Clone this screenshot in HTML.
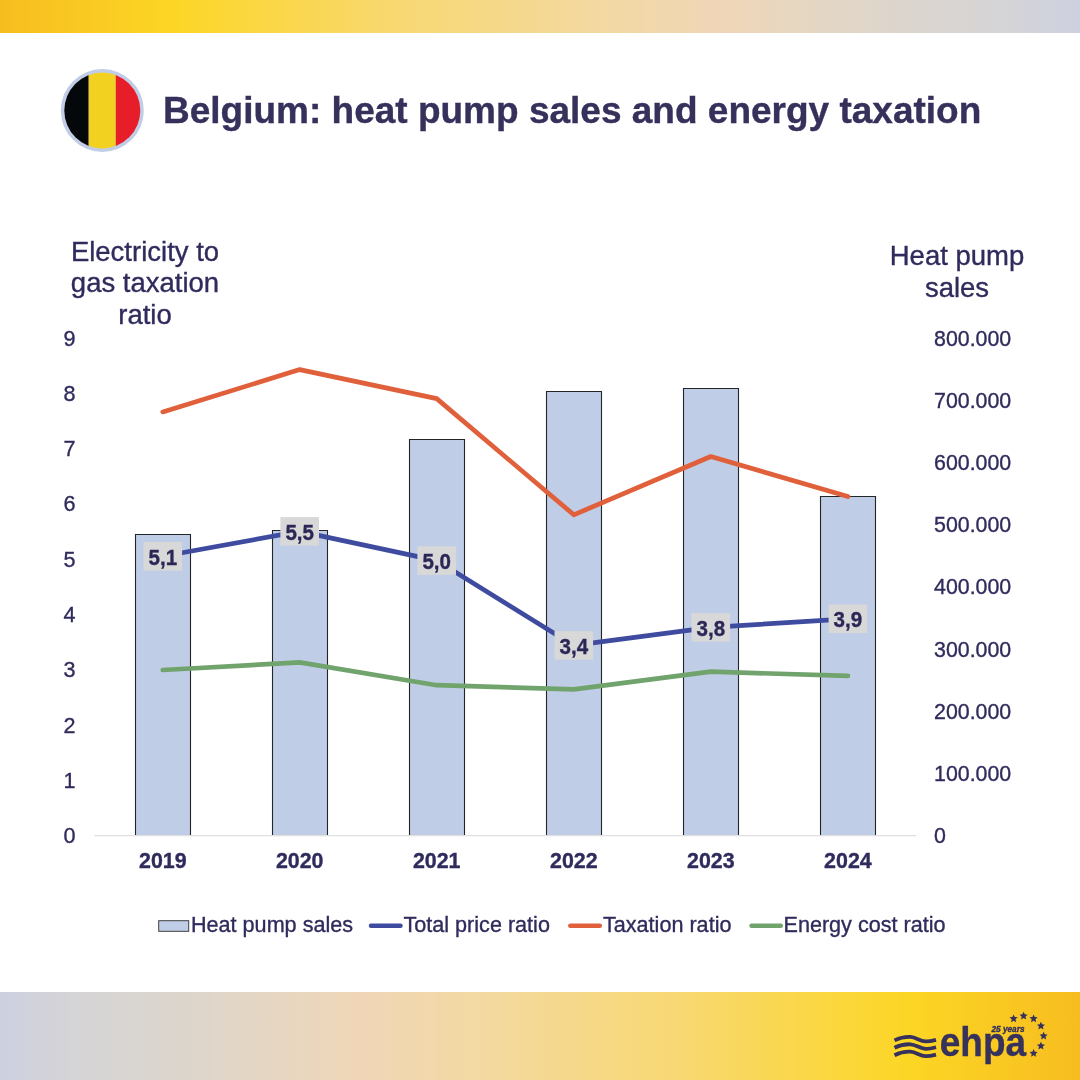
<!DOCTYPE html>
<html><head><meta charset="utf-8">
<style>
html,body{margin:0;padding:0;background:#fff;width:1080px;height:1080px;overflow:hidden}
svg{display:block;will-change:transform}
text{font-family:"Liberation Sans",sans-serif;fill:#2F2B5C;stroke:#2F2B5C;stroke-width:0.35px}
</style></head>
<body>
<svg width="1080" height="1080" viewBox="0 0 1080 1080">
<defs>
<linearGradient id="gTop" x1="0" y1="0" x2="1080" y2="0" gradientUnits="userSpaceOnUse">
<stop offset="0" stop-color="#F7BD1F"/>
<stop offset="0.16" stop-color="#FCD625"/>
<stop offset="0.37" stop-color="#F8D872"/>
<stop offset="0.55" stop-color="#F3D9A0"/>
<stop offset="0.67" stop-color="#F0D6B8"/>
<stop offset="0.74" stop-color="#E7D7C2"/>
<stop offset="0.83" stop-color="#DCD5CC"/>
<stop offset="0.93" stop-color="#D5D4D6"/>
<stop offset="1" stop-color="#CDD1E0"/>
</linearGradient>
<linearGradient id="gBot" x1="0" y1="0" x2="1080" y2="0" gradientUnits="userSpaceOnUse">
<stop offset="0" stop-color="#CDD1E0"/>
<stop offset="0.07" stop-color="#D5D4D6"/>
<stop offset="0.17" stop-color="#DCD5CC"/>
<stop offset="0.26" stop-color="#E7D7C2"/>
<stop offset="0.33" stop-color="#F0D6B8"/>
<stop offset="0.45" stop-color="#F3D9A0"/>
<stop offset="0.63" stop-color="#F8D872"/>
<stop offset="0.84" stop-color="#FCD625"/>
<stop offset="1" stop-color="#F7BD1F"/>
</linearGradient>
<clipPath id="flagClip"><circle cx="102.3" cy="110.5" r="38"/></clipPath>
</defs>
<rect x="0" y="0" width="1080" height="33" fill="url(#gTop)"/>
<rect x="0" y="992" width="1080" height="88" fill="url(#gBot)"/>
<circle cx="102.3" cy="110.5" r="41.5" fill="#C1CCE6"/>
<g clip-path="url(#flagClip)">
<rect x="60" y="70" width="28.7" height="82" fill="#05080A"/>
<rect x="88.7" y="70" width="27.1" height="82" fill="#F2D121"/>
<rect x="115.8" y="70" width="30" height="82" fill="#E71D2A"/>
</g>
<text x="163" y="122.8" font-size="37" font-weight="bold" style="fill:#36315B">Belgium: heat pump sales and energy taxation</text>
<g font-size="27.5" text-anchor="middle">
<text x="145" y="260.7">Electricity to</text>
<text x="145" y="292.2">gas taxation</text>
<text x="145" y="323.7">ratio</text>
<text x="957" y="265.4">Heat pump</text>
<text x="957" y="296.5">sales</text>
</g>

<g font-size="21.6">
<text transform="translate(63.4,843.3) scale(1,1.05)">0</text>
<text transform="translate(63.4,787.99) scale(1,1.05)">1</text>
<text transform="translate(63.4,732.68) scale(1,1.05)">2</text>
<text transform="translate(63.4,677.37) scale(1,1.05)">3</text>
<text transform="translate(63.4,622.06) scale(1,1.05)">4</text>
<text transform="translate(63.4,566.75) scale(1,1.05)">5</text>
<text transform="translate(63.4,511.44) scale(1,1.05)">6</text>
<text transform="translate(63.4,456.13) scale(1,1.05)">7</text>
<text transform="translate(63.4,400.82) scale(1,1.05)">8</text>
<text transform="translate(63.4,345.51) scale(1,1.05)">9</text>
<text transform="translate(934,843.3) scale(0.99,1.05)">0</text>
<text transform="translate(934,781.09) scale(0.99,1.05)">100.000</text>
<text transform="translate(934,718.88) scale(0.99,1.05)">200.000</text>
<text transform="translate(934,656.67) scale(0.99,1.05)">300.000</text>
<text transform="translate(934,594.46) scale(0.99,1.05)">400.000</text>
<text transform="translate(934,532.25) scale(0.99,1.05)">500.000</text>
<text transform="translate(934,470.04) scale(0.99,1.05)">600.000</text>
<text transform="translate(934,407.83) scale(0.99,1.05)">700.000</text>
<text transform="translate(934,345.62) scale(0.99,1.05)">800.000</text>
</g>
<rect x="135.5" y="534.5" width="55" height="301.1" fill="#C0CDE7"/>
<path d="M135.5,835.6 V534.5 H190.5 V835.6" fill="none" stroke="#232527" stroke-width="1.1"/>
<rect x="272.5" y="530.5" width="55" height="305.1" fill="#C0CDE7"/>
<path d="M272.5,835.6 V530.5 H327.5 V835.6" fill="none" stroke="#232527" stroke-width="1.1"/>
<rect x="409.5" y="439.5" width="55" height="396.1" fill="#C0CDE7"/>
<path d="M409.5,835.6 V439.5 H464.5 V835.6" fill="none" stroke="#232527" stroke-width="1.1"/>
<rect x="546.5" y="391.5" width="55" height="444.1" fill="#C0CDE7"/>
<path d="M546.5,835.6 V391.5 H601.5 V835.6" fill="none" stroke="#232527" stroke-width="1.1"/>
<rect x="683.5" y="388.5" width="55" height="447.1" fill="#C0CDE7"/>
<path d="M683.5,835.6 V388.5 H738.5 V835.6" fill="none" stroke="#232527" stroke-width="1.1"/>
<rect x="820.5" y="496.5" width="55" height="339.1" fill="#C0CDE7"/>
<path d="M820.5,835.6 V496.5 H875.5 V835.6" fill="none" stroke="#232527" stroke-width="1.1"/>
<line x1="94.3" y1="835.6" x2="916.3" y2="835.6" stroke="#E0E0E0" stroke-width="1.3"/>
<polyline points="162.8,411.9 299.7,369.6 436.7,398.6 573.8,514.8 710.8,456.5 847.9,496.5" fill="none" stroke="#E0603B" stroke-width="4.7" stroke-linecap="round" stroke-linejoin="round"/>
<polyline points="162.8,670 299.7,662.4 436.7,685.2 573.8,689.3 710.8,671.7 847.9,675.9" fill="none" stroke="#71A46D" stroke-width="4.7" stroke-linecap="round" stroke-linejoin="round"/>
<polyline points="162.8,556.3 299.7,531.4 436.7,560.6 573.8,645.4 710.8,627.4 847.9,618.8" fill="none" stroke="#3F4B9F" stroke-width="4.7" stroke-linecap="round" stroke-linejoin="round"/>
<rect x="143.5" y="542" width="38.6" height="28.6" fill="#D8D8D8"/>
<text transform="translate(162.8,564.6) scale(0.98,1.07)" text-anchor="middle" font-size="21" font-weight="bold" style="fill:#2A2656">5,1</text>
<rect x="280.4" y="517.1" width="38.6" height="28.6" fill="#D8D8D8"/>
<text transform="translate(299.7,539.7) scale(0.98,1.07)" text-anchor="middle" font-size="21" font-weight="bold" style="fill:#2A2656">5,5</text>
<rect x="417.4" y="546.3" width="38.6" height="28.6" fill="#D8D8D8"/>
<text transform="translate(436.7,568.9) scale(0.98,1.07)" text-anchor="middle" font-size="21" font-weight="bold" style="fill:#2A2656">5,0</text>
<rect x="554.5" y="631.1" width="38.6" height="28.6" fill="#D8D8D8"/>
<text transform="translate(573.8,653.7) scale(0.98,1.07)" text-anchor="middle" font-size="21" font-weight="bold" style="fill:#2A2656">3,4</text>
<rect x="691.5" y="613.1" width="38.6" height="28.6" fill="#D8D8D8"/>
<text transform="translate(710.8,635.7) scale(0.98,1.07)" text-anchor="middle" font-size="21" font-weight="bold" style="fill:#2A2656">3,8</text>
<rect x="828.6" y="604.5" width="38.6" height="28.6" fill="#D8D8D8"/>
<text transform="translate(847.9,627.1) scale(0.98,1.07)" text-anchor="middle" font-size="21" font-weight="bold" style="fill:#2A2656">3,9</text>
<text transform="translate(162.8,868.2) scale(1,1.06)" text-anchor="middle" font-size="21.4" font-weight="bold">2019</text>
<text transform="translate(299.7,868.2) scale(1,1.06)" text-anchor="middle" font-size="21.4" font-weight="bold">2020</text>
<text transform="translate(436.7,868.2) scale(1,1.06)" text-anchor="middle" font-size="21.4" font-weight="bold">2021</text>
<text transform="translate(573.8,868.2) scale(1,1.06)" text-anchor="middle" font-size="21.4" font-weight="bold">2022</text>
<text transform="translate(710.8,868.2) scale(1,1.06)" text-anchor="middle" font-size="21.4" font-weight="bold">2023</text>
<text transform="translate(847.9,868.2) scale(1,1.06)" text-anchor="middle" font-size="21.4" font-weight="bold">2024</text>
<g font-size="21.6">
<rect x="158.7" y="920.7" width="30" height="10.6" fill="#C0CDE7" stroke="#404040" stroke-width="1"/>
<text x="191" y="931.8">Heat pump sales</text>
<line x1="371" y1="925.8" x2="400.5" y2="925.8" stroke="#3F4B9F" stroke-width="4.5" stroke-linecap="round"/>
<text x="403.5" y="931.8">Total price ratio</text>
<line x1="570.3" y1="925.8" x2="599.8" y2="925.8" stroke="#E0603B" stroke-width="4.5" stroke-linecap="round"/>
<text x="603" y="931.8">Taxation ratio</text>
<line x1="751.5" y1="925.8" x2="780.8" y2="925.8" stroke="#71A46D" stroke-width="4.5" stroke-linecap="round"/>
<text x="783.5" y="931.8">Energy cost ratio</text>
</g>

<g fill="#36325B">
<text transform="translate(939.8,1055.6) scale(0.925,1)" font-size="40" font-weight="bold" style="fill:#36325B">ehpa</text>
<text transform="translate(991.5,1031.5) scale(0.86,1)" font-size="9.6" font-weight="bold" font-style="italic" style="fill:#36325B">25 years</text>
<polygon points="1013.6,1014.38 1014.79,1017.04 1017.69,1017.35 1015.52,1019.3 1016.13,1022.16 1013.6,1020.7 1011.07,1022.16 1011.68,1019.3 1009.51,1017.35 1012.41,1017.04"/>
<polygon points="1023.6,1011.7 1024.79,1014.36 1027.69,1014.67 1025.52,1016.62 1026.13,1019.48 1023.6,1018.02 1021.07,1019.48 1021.68,1016.62 1019.51,1014.67 1022.41,1014.36"/>
<polygon points="1033.6,1014.38 1034.79,1017.04 1037.69,1017.35 1035.52,1019.3 1036.13,1022.16 1033.6,1020.7 1031.07,1022.16 1031.68,1019.3 1029.51,1017.35 1032.41,1017.04"/>
<polygon points="1040.92,1021.7 1042.11,1024.36 1045.01,1024.67 1042.84,1026.62 1043.45,1029.48 1040.92,1028.02 1038.39,1029.48 1039,1026.62 1036.83,1024.67 1039.73,1024.36"/>
<polygon points="1043.6,1031.7 1044.79,1034.36 1047.69,1034.67 1045.52,1036.62 1046.13,1039.48 1043.6,1038.02 1041.07,1039.48 1041.68,1036.62 1039.51,1034.67 1042.41,1034.36"/>
<polygon points="1040.92,1041.7 1042.11,1044.36 1045.01,1044.67 1042.84,1046.62 1043.45,1049.48 1040.92,1048.02 1038.39,1049.48 1039,1046.62 1036.83,1044.67 1039.73,1044.36"/>
<polygon points="1033.6,1049.02 1034.79,1051.69 1037.69,1051.99 1035.52,1053.95 1036.13,1056.8 1033.6,1055.34 1031.07,1056.8 1031.68,1053.95 1029.51,1051.99 1032.41,1051.69"/>
<path d="M894.5,1040.4 C899,1038.2 905,1036.6 910.5,1036.9 C916,1037.2 920,1041.2 925.5,1041.4 C930,1041.6 933,1040.6 936,1039.8" fill="none" stroke="#36325B" stroke-width="3.8" stroke-linecap="butt"/>
<path d="M894.5,1047.8 C899,1045.6 905,1044 910.5,1044.3 C916,1044.6 920,1048.6 925.5,1048.8 C930,1049 933,1048 936,1047.2" fill="none" stroke="#36325B" stroke-width="3.8" stroke-linecap="butt"/>
<path d="M894.5,1055.2 C899,1053 905,1051.4 910.5,1051.7 C916,1052 920,1056 925.5,1056.2 C930,1056.4 933,1055.4 936,1054.6" fill="none" stroke="#36325B" stroke-width="3.8" stroke-linecap="butt"/>
</g>
</svg>
</body></html>
